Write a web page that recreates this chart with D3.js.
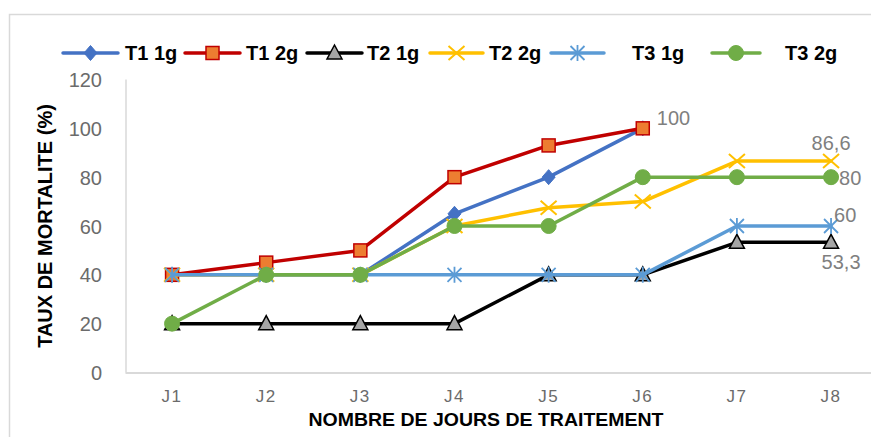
<!DOCTYPE html>
<html>
<head>
<meta charset="utf-8">
<script src="https://cdn.jsdelivr.net/npm/d3@7"></script>
<style>
  html, body { margin: 0; padding: 0; background: #fff; }
  svg { display: block; }
  text { font-family: "Liberation Sans", Arial, sans-serif; }
</style>
</head>
<body>
<svg id="chart" width="871" height="437"></svg>
<script>
// ---------- DATA ----------
const categories = ["J1", "J2", "J3", "J4", "J5", "J6", "J7", "J8"];
const seriesNames = ["T1 1g", "T1 2g", "T2 1g", "T2 2g", "T3 1g", "T3 2g"];
const t1_1g = [40, 40, 40, 65, 80, 100, null, null];
const t1_2g = [40, 45, 50, 80, 93, 100, null, null];
const t2_1g = [20, 20, 20, 20, 40, 40, 53.3, 53.3];
const t2_2g = [40, 40, 40, 60, 67.5, 70, 86.6, 86.6];
const t3_1g = [40, 40, 40, 40, 40, 40, 60, 60];
const t3_2g = [20, 40, 40, 60, 60, 80, 80, 80];
const yTicks = [0, 20, 40, 60, 80, 100, 120];
const yTitle = "TAUX DE MORTALITE (%)";
const xTitle = "NOMBRE DE JOURS DE TRAITEMENT";
// data labels: series index, category index, text
const labelSeries = [1, 3, 5, 4, 2];
const labelIndex  = [5, 7, 7, 7, 7];
const labelText   = ["100", "86,6", "80", "60", "53,3"];

// ---------- STYLE / LAYOUT ----------
const seriesValues = [t1_1g, t1_2g, t2_1g, t2_2g, t3_1g, t3_2g];
const styles = [
  { line: "#4472C4", marker: "diamond", fill: "#4472C4", stroke: "#4472C4" },
  { line: "#C00000", marker: "square",  fill: "#ED7D31", stroke: "#C00000" },
  { line: "#000000", marker: "triangle", fill: "#A5A5A5", stroke: "#000000" },
  { line: "#FFC000", marker: "x",       fill: "none",    stroke: "#FFC000" },
  { line: "#5B9BD5", marker: "star",    fill: "none",    stroke: "#5B9BD5" },
  { line: "#70AD47", marker: "circle",  fill: "#70AD47", stroke: "#70AD47" }
];
const legendLayout = [
  { x0: 63,  x1: 118, tx: 125 },
  { x0: 185, x1: 240, tx: 246 },
  { x0: 307, x1: 362, tx: 367 },
  { x0: 430, x1: 483, tx: 489 },
  { x0: 551, x1: 604, tx: 632 },
  { x0: 712, x1: 760, tx: 785 }
];
const labelOffsets = [
  { dx: 14, dy: -10, anchor: "start" },
  { dx: 0,  dy: -18, anchor: "middle" },
  { dx: 8,  dy: 1,   anchor: "start" },
  { dx: 3,  dy: -11, anchor: "start" },
  { dx: 10, dy: 20,  anchor: "middle" }
];

const svg = d3.select("#chart");

// chart area border
svg.append("rect")
  .attr("x", 9.5).attr("y", 14.5)
  .attr("width", 900).attr("height", 500)
  .attr("fill", "#fff").attr("stroke", "#d9d9d9").attr("stroke-width", 1.5);

const step = 94.14;
const x = d3.scaleBand().domain(categories).range([125, 125 + step * categories.length]).padding(0);
const xc = c => x(c) + x.bandwidth() / 2;
const y = d3.scaleLinear().domain([0, 120]).range([372.5, 79.5]);

// axes lines
svg.append("line").attr("x1", 126).attr("x2", 126).attr("y1", y(120)).attr("y2", y(0))
  .attr("stroke", "#d9d9d9").attr("stroke-width", 1.5);

const xAxis = svg.append("g").attr("transform", `translate(0,${y(0)})`)
  .call(d3.axisBottom(x).tickSize(0).tickPadding(0));
xAxis.select(".domain").attr("stroke", "#d9d9d9").attr("stroke-width", 2);
xAxis.selectAll(".tick text")
  .attr("y", 29.5).attr("dy", null)
  .attr("font-size", 17).attr("fill", "#6b6b6b")
  .attr("letter-spacing", 1.5)
  .style("font-family", '"Liberation Sans", Arial, sans-serif');

const yAxis = svg.append("g").attr("transform", `translate(102,0)`)
  .call(d3.axisLeft(y).tickValues(yTicks).tickSize(0).tickPadding(0).tickFormat(d3.format("d")));
yAxis.select(".domain").remove();
yAxis.selectAll(".tick text")
  .attr("font-size", 20).attr("fill", "#6b6b6b").attr("dy", "0.35em")
  .style("font-family", '"Liberation Sans", Arial, sans-serif');

// titles
svg.append("text")
  .attr("transform", "translate(52,226) rotate(-90)")
  .attr("text-anchor", "middle")
  .attr("font-size", 20).attr("font-weight", "bold").attr("fill", "#000")
  .text(yTitle);

svg.append("text")
  .attr("x", 486).attr("y", 426)
  .attr("text-anchor", "middle")
  .attr("font-size", 19).attr("font-weight", "bold").attr("fill", "#000")
  .attr("textLength", 355).attr("lengthAdjust", "spacingAndGlyphs")
  .text(xTitle);

// marker drawer
function drawMarker(g, type, cx, cy, st) {
  if (type === "diamond") {
    g.append("path").attr("d", `M${cx},${cy-7.5}L${cx+6.5},${cy}L${cx},${cy+7.5}L${cx-6.5},${cy}Z`)
      .attr("fill", st.fill).attr("stroke", st.stroke).attr("stroke-width", 1);
  } else if (type === "square") {
    g.append("rect").attr("x", cx - 6.5).attr("y", cy - 6.5).attr("width", 13).attr("height", 13)
      .attr("fill", st.fill).attr("stroke", st.stroke).attr("stroke-width", 1.5);
  } else if (type === "triangle") {
    g.append("path").attr("d", `M${cx},${cy-8}L${cx+7.5},${cy+6}L${cx-7.5},${cy+6}Z`)
      .attr("fill", st.fill).attr("stroke", st.stroke).attr("stroke-width", 1.5);
  } else if (type === "x") {
    g.append("path").attr("d", `M${cx-8},${cy-7}L${cx+8},${cy+7}M${cx-8},${cy+7}L${cx+8},${cy-7}`)
      .attr("stroke", st.stroke).attr("stroke-width", 2).attr("fill", "none");
  } else if (type === "star") {
    g.append("path").attr("d", `M${cx-7},${cy-7}L${cx+7},${cy+7}M${cx-7},${cy+7}L${cx+7},${cy-7}M${cx},${cy-8}L${cx},${cy+8}`)
      .attr("stroke", st.stroke).attr("stroke-width", 1.8).attr("fill", "none");
  } else if (type === "circle") {
    g.append("circle").attr("cx", cx).attr("cy", cy).attr("r", 7.5)
      .attr("fill", st.fill).attr("stroke", st.stroke).attr("stroke-width", 1);
  }
}

// series
const line = d3.line()
  .defined(d => d.v !== null)
  .x(d => xc(d.c))
  .y(d => y(d.v));

seriesValues.forEach((vals, i) => {
  const st = styles[i];
  const pts = categories.map((c, j) => ({ c, v: vals[j] }));
  const g = svg.append("g");
  g.append("path").datum(pts).attr("d", line)
    .attr("fill", "none").attr("stroke", st.line).attr("stroke-width", 3.5)
    .attr("stroke-linejoin", "round").attr("stroke-linecap", "round");
  pts.filter(p => p.v !== null).forEach(p => drawMarker(g, st.marker, xc(p.c), y(p.v), st));
});

// data labels
labelText.forEach((t, k) => {
  const si = labelSeries[k], ci = labelIndex[k];
  const o = labelOffsets[k];
  svg.append("text")
    .attr("x", xc(categories[ci]) + o.dx)
    .attr("y", y(seriesValues[si][ci]) + o.dy)
    .attr("dy", "0.35em")
    .attr("text-anchor", o.anchor)
    .attr("font-size", 20).attr("fill", "#7f7f7f")
    .text(t);
});

// legend
seriesNames.forEach((name, i) => {
  const L = legendLayout[i], st = styles[i];
  const g = svg.append("g");
  const ly = 53;
  g.append("line").attr("x1", L.x0).attr("x2", L.x1).attr("y1", ly).attr("y2", ly)
    .attr("stroke", st.line).attr("stroke-width", 3.5).attr("stroke-linecap", "round");
  drawMarker(g, st.marker, (L.x0 + L.x1) / 2, ly, st);
  g.append("text").attr("x", L.tx).attr("y", ly).attr("dy", "0.35em")
    .attr("font-size", 20).attr("font-weight", "bold").attr("fill", "#000")
    .text(name);
});
</script>
</body>
</html>
